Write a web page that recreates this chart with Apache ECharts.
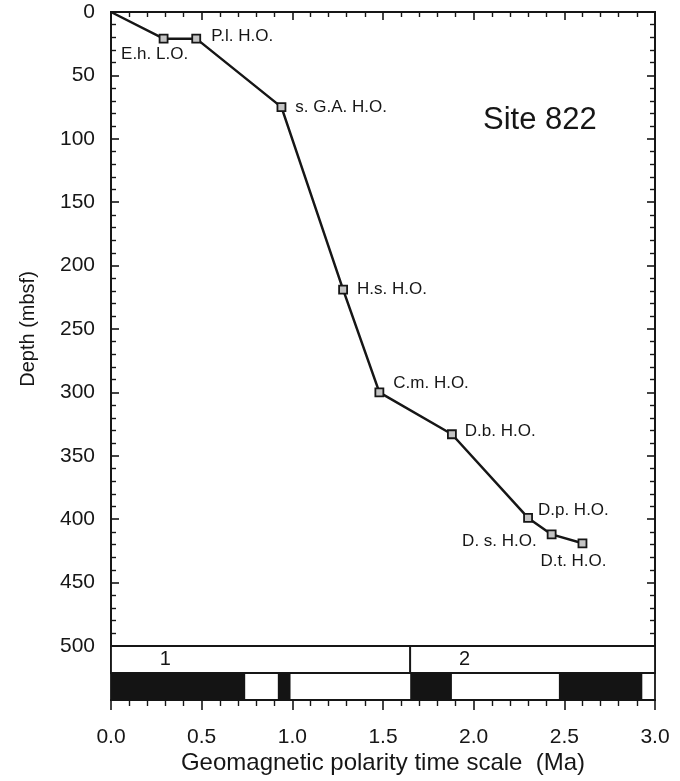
<!DOCTYPE html>
<html>
<head>
<meta charset="utf-8">
<title>Site 822 age-depth plot</title>
<script src="https://cdn.jsdelivr.net/npm/echarts@6/dist/echarts.min.js"></script>
<style>
  html, body { margin: 0; padding: 0; background: #fff; }
  #chart { width: 680px; height: 781px; }
</style>
</head>
<body>
<div id="chart"></div>
<script>
// Biostratigraphic datums: age (Ma) versus depth (mbsf)
const datumNames = ['', 'E.h. L.O.', 'P.l. H.O.', 's. G.A. H.O.', 'H.s. H.O.', 'C.m. H.O.', 'D.b. H.O.', 'D.p. H.O.', 'D. s. H.O.', 'D.t. H.O.'];
const datumAges  = [0, 0.29, 0.47, 0.94, 1.28, 1.48, 1.88, 2.30, 2.43, 2.60];
const datumDepths = [0, 21, 21, 75, 219, 300, 333, 399, 412, 419];

// Polarity chrons (normal intervals are filled black)
const chronNames = ['1', '2'];
const chronStart = [0, 1.65];
const chronEnd   = [1.65, 3.0];
const normalStart = [0, 0.92, 1.65, 2.47];
const normalEnd   = [0.74, 0.99, 1.88, 2.93];

// Axis ticks
const ageTicks = [0, 0.5, 1.0, 1.5, 2.0, 2.5, 3.0];
const depthTicks = [0, 50, 100, 150, 200, 250, 300, 350, 400, 450, 500];

const INK = '#161616';
const FONT = '"Liberation Sans", Arial, Helvetica, sans-serif';

// Where each datum label sits relative to its marker
const labelPlacement = {
  'E.h. L.O.':    { position: 'bottom', distance: 2, offset: [-9, 0] },
  'P.l. H.O.':    { position: 'right',  distance: 10, offset: [0, -2] },
  's. G.A. H.O.': { position: 'right',  distance: 9, offset: [0, 0] },
  'H.s. H.O.':    { position: 'right',  distance: 9, offset: [0, 0] },
  'C.m. H.O.':    { position: 'right',  distance: 9, offset: [0, -9] },
  'D.b. H.O.':    { position: 'right',  distance: 8, offset: [0, -3] },
  'D.p. H.O.':    { position: 'right',  distance: 5, offset: [0, -8] },
  'D. s. H.O.':   { position: 'left',   distance: 10, offset: [0, 7] },
  'D.t. H.O.':    { position: 'bottom', distance: 5, offset: [-9, 0] }
};

const datumData = datumAges.map((age, i) => {
  const name = datumNames[i];
  const item = { value: [age, datumDepths[i]], name: name };
  if (!name) {
    item.symbol = 'none';
    item.label = { show: false };
  } else {
    const p = labelPlacement[name];
    item.label = {
      show: true, formatter: name, position: p.position,
      distance: p.distance, offset: p.offset
    };
  }
  return item;
});

const chronData = chronNames.map((n, i) => [chronStart[i], chronEnd[i], i]);
const normalData = normalStart.map((s, i) => [s, normalEnd[i]]);

const chart = echarts.init(document.getElementById('chart'), null, { renderer: 'canvas' });

const tickCommon = {
  min: 0, max: 3, interval: 0.5, type: 'value',
  splitLine: { show: false },
  axisLine: { show: true, onZero: false, lineStyle: { color: INK, width: 1.8 } }
};

chart.setOption({
  backgroundColor: '#fff',
  animation: false,
  textStyle: { fontFamily: FONT, color: INK },
  grid: [
    { left: 111, right: 25, top: 12, height: 634, show: true, borderColor: INK, borderWidth: 1.8, backgroundColor: 'transparent', outerBoundsMode: 'none', containLabel: false },
    { left: 111, right: 25, top: 646, height: 54, show: true, borderColor: INK, borderWidth: 1.8, backgroundColor: 'transparent', outerBoundsMode: 'none', containLabel: false }
  ],
  xAxis: [
    Object.assign({}, tickCommon, {
      gridIndex: 0, position: 'top',
      axisTick: { show: true, inside: true, length: 8, lineStyle: { color: INK, width: 1.6 } },
      minorTick: { show: true, splitNumber: 5, length: 5, lineStyle: { color: INK, width: 1.4 } },
      axisLabel: { show: false }
    }),
    Object.assign({}, tickCommon, {
      gridIndex: 1, position: 'bottom',
      axisTick: { show: true, inside: false, length: 10, lineStyle: { color: INK, width: 1.6 } },
      minorTick: { show: true, splitNumber: 5, length: 6, lineStyle: { color: INK, width: 1.4 } },
      axisLabel: {
        show: true, margin: 27, fontSize: 21, color: INK, fontFamily: FONT,
        customValues: ageTicks,
        formatter: v => v.toFixed(1)
      },
      name: 'Geomagnetic polarity time scale  (Ma)',
      nameLocation: 'middle', nameGap: 51,
      nameTextStyle: { fontSize: 24, color: INK, fontFamily: FONT }
    })
  ],
  yAxis: [
    {
      gridIndex: 0, type: 'value', inverse: true, min: 0, max: 500, interval: 50, position: 'left',
      splitLine: { show: false },
      axisLine: { show: true, onZero: false, lineStyle: { color: INK, width: 1.8 } },
      axisTick: { show: true, inside: true, length: 8, lineStyle: { color: INK, width: 1.6 } },
      minorTick: { show: true, splitNumber: 5, length: 5, lineStyle: { color: INK, width: 1.4 } },
      axisLabel: { show: true, margin: 16, fontSize: 21, color: INK, fontFamily: FONT, customValues: depthTicks },
      name: 'Depth (mbsf)', nameLocation: 'middle', nameGap: 73, nameRotate: 90,
      nameTextStyle: { fontSize: 20, color: INK, fontFamily: FONT }
    },
    {
      gridIndex: 0, type: 'value', inverse: true, min: 0, max: 500, interval: 50, position: 'right',
      splitLine: { show: false },
      axisLine: { show: true, onZero: false, lineStyle: { color: INK, width: 1.8 } },
      axisTick: { show: true, inside: true, length: 8, lineStyle: { color: INK, width: 1.6 } },
      minorTick: { show: true, splitNumber: 5, length: 5, lineStyle: { color: INK, width: 1.4 } },
      axisLabel: { show: false }
    },
    {
      gridIndex: 1, type: 'value', min: 0, max: 2, show: false
    }
  ],
  graphic: [
    {
      type: 'text', left: 483, top: 105,
      style: { text: 'Site 822', font: '31px ' + FONT, fill: INK }
    }
  ],
  series: [
    {
      type: 'line', xAxisIndex: 0, yAxisIndex: 0,
      data: datumData,
      symbol: 'rect', symbolSize: 8,
      lineStyle: { color: INK, width: 2.5 },
      itemStyle: { color: '#c4c4c4', borderColor: INK, borderWidth: 1.8 },
      label: { fontSize: 17, color: INK, fontFamily: FONT },
      emphasis: { disabled: true },
      z: 5
    },
    {
      // Chron boxes with their numbers (upper row of the strip)
      type: 'custom', xAxisIndex: 1, yAxisIndex: 2,
      data: chronData,
      renderItem: (params, api) => {
        const s = api.value(0), e = api.value(1), idx = api.value(2);
        const tl = api.coord([s, 2]);
        const br = api.coord([e, 1]);
        const lp = api.coord([s + 0.3, 1.5]);
        return {
          type: 'group',
          children: [
            { type: 'rect', shape: { x: tl[0], y: tl[1], width: br[0] - tl[0], height: br[1] - tl[1] },
              style: { fill: '#fff', stroke: INK, lineWidth: 1.8 } },
            { type: 'text', x: lp[0], y: lp[1],
              style: { text: chronNames[idx], font: '20px ' + FONT, fill: INK, align: 'center', verticalAlign: 'middle' } }
          ]
        };
      }
    },
    {
      // Normal polarity intervals (lower row of the strip)
      type: 'custom', xAxisIndex: 1, yAxisIndex: 2,
      data: normalData,
      renderItem: (params, api) => {
        const tl = api.coord([api.value(0), 1]);
        const br = api.coord([api.value(1), 0]);
        return {
          type: 'rect',
          shape: { x: tl[0], y: tl[1], width: br[0] - tl[0], height: br[1] - tl[1] },
          style: { fill: '#141414' }
        };
      }
    }
  ]
});
</script>
</body>
</html>
